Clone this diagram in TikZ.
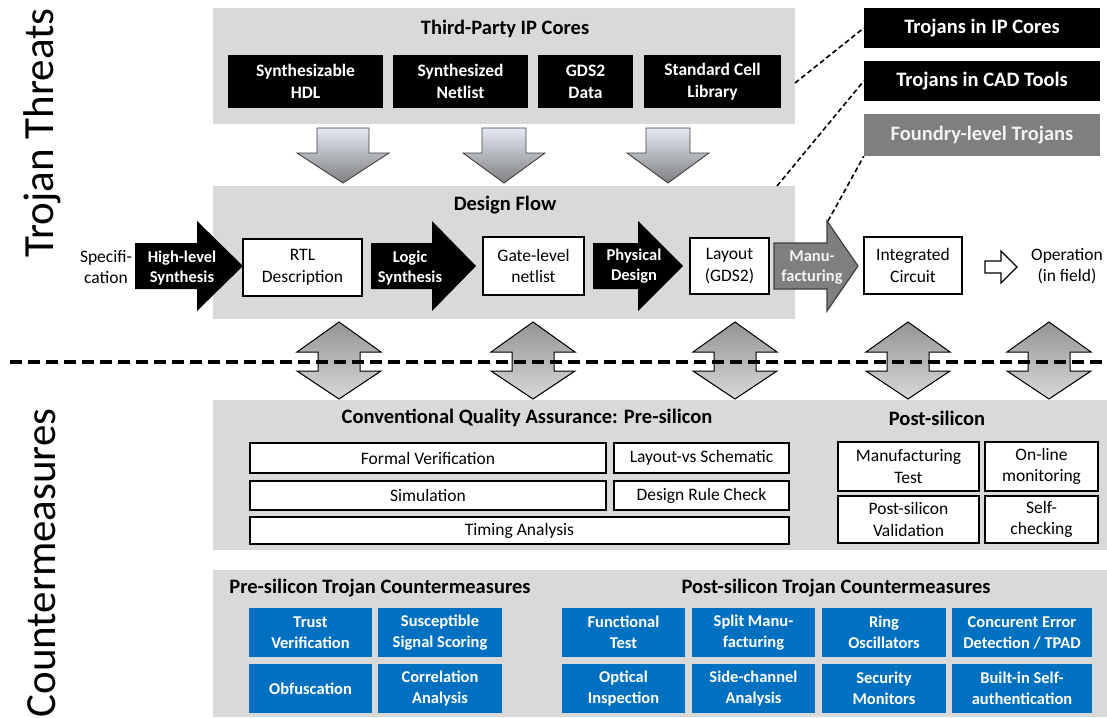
\documentclass[tikz,border=0pt]{standalone}
\usepackage{fontspec}
\setmainfont{Carlito}
\usetikzlibrary{shadings}

\definecolor{panelgray}{HTML}{D9D9D9}
\definecolor{cmblue}{HTML}{0070C0}
\definecolor{midgray}{HTML}{7F7F7F}
\definecolor{darkedge}{HTML}{404040}
\definecolor{paleblue}{HTML}{E4EAF4}

% rectangle node given by its corners
\newcommand\bx[7]{\node[#6, minimum width={(#4)-(#2)}, minimum height={(#5)-(#3)}] (#1) at ({((#2)+(#4))/2},{((#3)+(#5))/2}) {#7};}
% fat right-pointing arrow: body left, head base, tip, style
\newcommand\fatright[4]{\path[#4] (#1,243) -- (#2,243) -- (#2,221) -- (#3,266) -- (#2,311) -- (#2,289) -- (#1,289) -- cycle;}
% feed arrow pointing down: centre, shaft half width, head half width
\newcommand\feedarr[3]{\draw[feed] ({#1-#2},128) -- ({#1+#2},128) -- ({#1+#2},153) -- ({#1+#3},153) -- (#1,183) -- ({#1-#3},153) -- ({#1-#2},153) -- cycle;}
% double arrow pointing up and down: centre
\newcommand\updownarr[1]{\draw[updown] (#1,322) -- ({#1+42},352) -- ({#1+21},352) -- ({#1+21},371) -- ({#1+42},371) -- (#1,399) -- ({#1-42},371) -- ({#1-21},371) -- ({#1-21},352) -- ({#1-42},352) -- cycle;}

\tikzset{
  panel/.style={fill=panelgray, draw=none, inner sep=0pt},
  paneltitle/.style={font=\bfseries\fontsize{20.5}{24}\selectfont, inner sep=0pt},
  sidelabel/.style={font=\fontsize{43}{50}\selectfont, inner sep=0pt},
  blk/.style={fill=black, text=white, font=\bfseries\fontsize{17.5}{22}\selectfont, align=center, inner sep=0pt},
  threat/.style={fill=black, text=white, font=\bfseries\fontsize{20.5}{24}\selectfont, inner sep=0pt},
  wbox/.style={draw=black, line width=1.3pt, fill=white, font=\fontsize{17.5}{21.5}\selectfont, align=center, inner sep=0pt},
  bluebox/.style={fill=cmblue, text=white, font=\bfseries\fontsize{16.5}{21}\selectfont, align=center, inner sep=0pt},
  arrowtext/.style={text=white, font=\bfseries\fontsize{16.5}{20}\selectfont, align=center, inner sep=0pt},
  plain/.style={font=\fontsize{17.5}{21.5}\selectfont, align=center, inner sep=0pt},
  feed/.style={top color=paleblue, bottom color=midgray, draw=darkedge, line width=0.9pt},
  updown/.style={top color=black!42, bottom color=black!15, draw=black, line width=1pt},
  bigdash/.style={line width=3.5pt, dash pattern=on 12pt off 6pt},
  linkdash/.style={line width=1.6pt, dash pattern=on 5pt off 3pt},
}

\begin{document}
\begin{tikzpicture}[x=1pt,y=-1pt]
\useasboundingbox (0,0) rectangle (1107,717);

% side headings
\node[sidelabel, rotate=90] (threats) at (42,133) {Trojan Threats};
\node[sidelabel, rotate=90] (counter) at (42,563) {Countermeasures};

% third-party IP cores
\bx{ipcores}{213}{8}{795}{124}{panel}{}
\node[paneltitle] (iptitle) at (505,29) {Third-Party IP Cores};
\bx{hdl}{228}{55}{383}{108}{blk}{Synthesizable\\HDL}
\bx{netl}{393}{55}{528}{108}{blk}{Synthesized\\Netlist}
\bx{gds}{538}{55}{633}{108}{blk}{GDS2\\Data}
\bx{stdcell}{644}{55}{781}{108}{blk}{Standard Cell\\Library}

% IP feeding into the flow
\feedarr{343}{26}{46}
\feedarr{504}{22}{41}
\feedarr{668}{22}{41}

% design flow
\bx{flow}{213}{186}{795}{319}{panel}{}
\node[paneltitle] (flowtitle) at (505,205) {Design Flow};

\node[plain] (spec) at (106,267) {Specifi-\\cation};
\fatright{135}{197}{243}{fill=black}
\node[arrowtext] (hls) at (182,268) {High-level\\Synthesis};
\bx{rtl}{243}{239}{362}{296}{wbox}{RTL\\Description}
\fatright{371}{432}{476}{fill=black}
\node[arrowtext] (logsyn) at (410,268) {Logic\\Synthesis};
\bx{gate}{483}{237}{584}{295}{wbox}{Gate-level\\netlist}
\fatright{593}{638}{683}{fill=black}
\node[arrowtext] (phys) at (634,266) {Physical\\Design};
\bx{layout}{690}{238}{769}{294}{wbox}{Layout\\(GDS2)}
\fatright{774}{827}{858}{fill=midgray, draw=darkedge, line width=1.2pt}
\node[arrowtext, text=white!95!black] (manuf) at (812,268) {Manu-\\facturing};
\bx{ic}{864}{237}{962}{294}{wbox}{Integrated\\Circuit}
\draw[line width=1.2pt, fill=white] (985,261) -- (1001,261) -- (1001,251) -- (1017,267) -- (1001,283) -- (1001,273) -- (985,273) -- cycle;
\node[plain] (oper) at (1067,266) {Operation\\(in field)};

% threat categories
\bx{tip}{864}{8}{1100}{48}{threat}{Trojans in IP Cores}
\bx{tcad}{864}{61}{1100}{101}{threat}{Trojans in CAD Tools}
\bx{tfab}{864}{114}{1100}{156}{threat, fill=midgray, text=white!95!black}{Foundry-level Trojans}
\coordinate (ipedge) at (795,83);
\coordinate (flowedge) at (777,186);
\coordinate (fabedge) at (828,221);
\draw[linkdash] (ipedge) -- (tip.west);
\draw[linkdash] (flowedge) -- (tcad.west);
\draw[linkdash] (fabedge) -- (tfab.south west);

% links between flow and checks
\updownarr{339}
\updownarr{533}
\updownarr{735}
\updownarr{908}
\updownarr{1049}

% threats / countermeasures divider
\coordinate (divL) at (10,362);
\coordinate (divR) at (1107,362);
\draw[bigdash] (divL) -- (divR);

% conventional quality assurance
\bx{qa}{213}{400}{1107}{550}{panel}{}
\node[paneltitle] (qatitle) at (527,418) {Conventional Quality Assurance: Pre-silicon};
\node[paneltitle] (posttitle) at (937,418) {Post-silicon};
\bx{formal}{250}{443}{606}{473}{wbox}{Formal Verification}
\bx{lvs}{614}{443}{789}{473}{wbox}{Layout-vs Schematic}
\bx{sim}{250}{481}{606}{510}{wbox}{Simulation}
\bx{drc}{614}{481}{789}{510}{wbox}{Design Rule Check}
\bx{timing}{250}{517}{789}{544}{wbox}{Timing Analysis}
\bx{mtest}{838}{442}{979}{491}{wbox}{Manufacturing\\Test}
\bx{online}{985}{442}{1098}{491}{wbox}{On-line\\monitoring}
\bx{psval}{838}{496}{979}{543}{wbox}{Post-silicon\\Validation}
\bx{selfchk}{985}{496}{1098}{543}{wbox}{Self-\\checking}

% Trojan countermeasures
\bx{cm}{213}{570}{1107}{717}{panel}{}
\node[paneltitle] (pretitle) at (380,588) {Pre-silicon Trojan Countermeasures};
\node[paneltitle] (posttcm) at (836,588) {Post-silicon Trojan Countermeasures};
\bx{trust}{249}{608}{372}{657}{bluebox}{Trust\\Verification}
\bx{sss}{378}{608}{502}{657}{bluebox}{Susceptible\\Signal Scoring}
\bx{obf}{249}{664}{372}{713}{bluebox}{Obfuscation}
\bx{corr}{378}{664}{502}{713}{bluebox}{Correlation\\Analysis}
\bx{func}{562}{608}{685}{657}{bluebox}{Functional\\Test}
\bx{split}{692}{608}{815}{657}{bluebox}{Split Manu-\\facturing}
\bx{ring}{822}{608}{946}{657}{bluebox}{Ring\\Oscillators}
\bx{ced}{952}{608}{1092}{657}{bluebox}{Concurent Error\\Detection / TPAD}
\bx{optical}{562}{664}{685}{713}{bluebox}{Optical\\Inspection}
\bx{side}{692}{664}{815}{713}{bluebox}{Side-channel\\Analysis}
\bx{secmon}{822}{664}{946}{713}{bluebox}{Security\\Monitors}
\bx{bisa}{952}{664}{1092}{713}{bluebox}{Built-in Self-\\authentication}
\end{tikzpicture}
\end{document}
